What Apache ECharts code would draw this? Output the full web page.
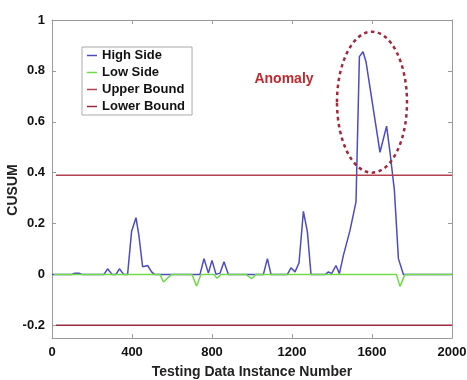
<!DOCTYPE html>
<html>
<head>
<meta charset="utf-8">
<script src="https://cdn.jsdelivr.net/npm/echarts@6/dist/echarts.min.js"></script>
<style>html,body{margin:0;padding:0;background:#fff}#c{width:467px;height:380px}</style>
</head>
<body>
<div id="c"></div>
<script>
// ---- data ----
var highX = [0,100,115,135,150,260,278,300,320,337,358,378,398,420,435,453,478,498,512,740,760,782,800,820,840,860,882,1057,1077,1095,1177,1195,1215,1235,1257,1277,1295,1368,1382,1398,1420,1437,1457,1490,1520,1537,1555,1570,1640,1673,1690,1712,1732,1757,2000];
var highY = [0,0,0.005,0.005,0,0,0.022,0,0,0.022,0,0,0.17,0.223,0.15,0.03,0.035,0.01,0,0,0.062,0.005,0.055,0,0.005,0.05,0,0,0.062,0,0,0.026,0.01,0.045,0.248,0.167,0,0,0.01,0.003,0.035,0.003,0.075,0.173,0.285,0.856,0.875,0.836,0.48,0.583,0.48,0.33,0.062,0,0];
var lowX = [10,540,557,598,700,723,745,810,825,845,970,998,1020,1722,1740,1765,2000];
var lowY = [0,0,-0.03,0,0,-0.046,0,0,-0.015,0,0,-0.017,0,0,-0.047,0,0];
var boundX = [20,2000];
var upperY = [0.39,0.39];
var lowerY = [-0.2,-0.2];
var xTicks = [0,400,800,1200,1600,2000];
var yTicks = [-0.2,0,0.2,0.4,0.6,0.8,1];
var seriesNames = ['High Side','Low Side','Upper Bound','Lower Bound'];
// annotation (data units)
var anomalyCenter = [1600, 0.677];
var anomalyRadius = [175, 0.277];
var anomalyText = 'Anomaly';
var anomalyTextPos = [1160, 0.769];

function pairs(xs, ys){ return xs.map(function(x,i){ return [x, ys[i]]; }); }

var FONT = 'Arial, "Liberation Sans", sans-serif';
var axisGray = '#9a9a9a';
var chart = echarts.init(document.getElementById('c'), null, {renderer:'canvas'});
var lineBase = {type:'line', symbol:'none', showSymbol:false, smooth:false, animation:false, xAxisIndex:0, yAxisIndex:0};
chart.setOption({
  animation:false,
  backgroundColor:'#fff',
  grid:{left:52, right:15, top:20, bottom:42, containLabel:false, outerBoundsMode:'none'},
  legend:{
    orient:'vertical', left:82, top:47,
    data:seriesNames,
    icon:'rect', itemWidth:10, itemHeight:1.5, itemGap:2,
    borderColor:'#aaa', borderWidth:1, padding:[1,7,1,5],
    backgroundColor:'#fff',
    textStyle:{fontFamily:FONT, fontWeight:'bold', fontSize:13, color:'#111', lineHeight:15},
    selectedMode:false
  },
  xAxis:[{
    type:'value', min:0, max:2000, interval:400, position:'bottom',
    name:'Testing Data Instance Number', nameLocation:'middle', nameGap:27, nameMoveOverlap:false,
    nameTextStyle:{fontFamily:FONT, fontWeight:'bold', fontSize:14, color:'#222'},
    axisLine:{onZero:false, lineStyle:{color:axisGray, width:1}},
    axisTick:{inside:true, length:4, lineStyle:{color:axisGray}},
    axisLabel:{fontFamily:FONT, fontWeight:'bold', fontSize:13, color:'#111', margin:8,
      formatter:function(v){ return String(v); }},
    splitLine:{show:false}
  },{
    type:'value', min:0, max:2000, interval:400, position:'top',
    axisLine:{show:true, onZero:false, lineStyle:{color:axisGray, width:1}},
    axisTick:{inside:true, length:4, lineStyle:{color:axisGray}},
    axisLabel:{show:false}, splitLine:{show:false}
  }],
  yAxis:[{
    type:'value', min:-0.25, max:1, position:'left',
    name:'CUSUM', nameLocation:'middle', nameGap:32, nameRotate:90, nameMoveOverlap:false,
    nameTextStyle:{fontFamily:FONT, fontWeight:'bold', fontSize:14, color:'#222', padding:[0,22,0,0]},
    axisLine:{show:true, onZero:false, lineStyle:{color:axisGray, width:1}},
    axisTick:{show:true, inside:true, length:4, lineStyle:{color:axisGray}, customValues:yTicks},
    axisLabel:{fontFamily:FONT, fontWeight:'bold', fontSize:13, color:'#111', margin:7, customValues:yTicks,
      formatter:function(v){ return String(Math.round(v*10)/10); }},
    splitLine:{show:false}
  },{
    type:'value', min:-0.25, max:1, position:'right',
    axisLine:{show:true, onZero:false, lineStyle:{color:axisGray, width:1}},
    axisTick:{show:true, inside:true, length:4, lineStyle:{color:axisGray}, customValues:yTicks},
    axisLabel:{show:false}, splitLine:{show:false}
  }],
  series:[
    Object.assign({}, lineBase, {name:seriesNames[0], data:pairs(highX, highY), lineStyle:{color:'#4b4bc4', width:1.5}, itemStyle:{color:'#4b4bc4'}}),
    Object.assign({}, lineBase, {name:seriesNames[1], data:pairs(lowX, lowY), lineStyle:{color:'#6fdc45', width:1.5}, itemStyle:{color:'#6fdc45'}}),
    Object.assign({}, lineBase, {name:seriesNames[2], data:pairs(boundX, upperY), lineStyle:{color:'#b3404e', width:1.5}, itemStyle:{color:'#b3404e'}}),
    Object.assign({}, lineBase, {name:seriesNames[3], data:pairs(boundX, lowerY), lineStyle:{color:'#9b2a40', width:1.5}, itemStyle:{color:'#9b2a40'}})
  ]
});

function drawAnnotations(){
  var c = chart.convertToPixel({gridIndex:0}, anomalyCenter);
  var e = chart.convertToPixel({gridIndex:0}, [anomalyCenter[0]+anomalyRadius[0], anomalyCenter[1]+anomalyRadius[1]]);
  var t = chart.convertToPixel({gridIndex:0}, anomalyTextPos);
  chart.setOption({graphic:[
    {type:'ellipse', shape:{cx:c[0], cy:c[1], rx:Math.abs(e[0]-c[0]), ry:Math.abs(c[1]-e[1])},
     style:{fill:'none', stroke:'#a3283c', lineWidth:2.5, lineDash:[3.5,3.5]}, z:10},
    {type:'text', x:t[0], y:t[1], style:{text:anomalyText, fill:'#c0282d', font:'bold 14px ' + FONT, align:'center', verticalAlign:'middle'}, z:10}
  ]});
}
drawAnnotations();
</script>
</body>
</html>
